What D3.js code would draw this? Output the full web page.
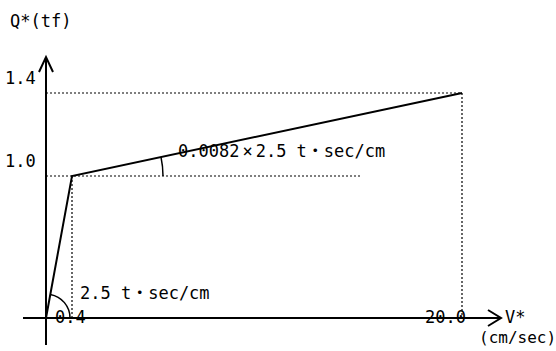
<!DOCTYPE html>
<html>
<head>
<meta charset="utf-8">
<script src="https://cdn.jsdelivr.net/npm/d3@7"></script>
<style>
  body { margin: 0; background: #fff; }
  svg text { font-family: "DejaVu Sans Mono", "Liberation Mono", "Noto Sans CJK JP", monospace; font-size: 17px; fill: #000; }
</style>
</head>
<body>
<svg width="556" height="351"></svg>
<script>
// bilinear force-velocity diagram (schematic, not to scale)
var xBreaks = [0, 0.4, 20.0];
var yBreaks = [0, 1.0, 1.4];
var curveV = [0, 0.4, 20.0];
var curveQ = [0, 1.0, 1.4];
var xTickLabels = ["0.4", "20.0"];
var yTickLabels = ["1.0", "1.4"];

var svg = d3.select("svg");

// piecewise scales: the picture squeezes the small values
var x = d3.scaleLinear().domain(xBreaks).range([46, 72, 462]);
var y = d3.scaleLinear().domain(yBreaks).range([318, 176, 93]);

var pts = curveV.map(function(v, i) { return [v, curveQ[i]]; });

// dotted guides
var dots = svg.append("g").attr("stroke", "#000").attr("stroke-width", 1.2)
    .attr("stroke-dasharray", "2,2").attr("fill", "none");
dots.append("line").attr("x1", x(0)).attr("x2", x(20.0)).attr("y1", y(1.4)).attr("y2", y(1.4));
dots.append("line").attr("x1", x(20.0)).attr("x2", x(20.0)).attr("y1", y(1.4)).attr("y2", y(0));
dots.append("line").attr("x1", x(0)).attr("x2", 362).attr("y1", y(1.0)).attr("y2", y(1.0));
dots.append("line").attr("x1", x(0.4)).attr("x2", x(0.4)).attr("y1", y(1.0)).attr("y2", y(0));

// axes
var ax = svg.append("g").attr("stroke", "#000").attr("stroke-width", 2).attr("fill", "none");
ax.append("line").attr("x1", 23).attr("x2", 500).attr("y1", y(0)).attr("y2", y(0));
ax.append("line").attr("x1", x(0)).attr("x2", x(0)).attr("y1", 345).attr("y2", 57);
ax.append("path").attr("d", "M" + (x(0) - 7) + ",72L" + x(0) + ",57L" + (x(0) + 7) + ",72");
ax.append("path").attr("d", "M488," + (y(0) - 8) + "L501," + y(0) + "L488," + (y(0) + 8));

// the curve
svg.append("path")
    .datum(pts)
    .attr("fill", "none").attr("stroke", "#000").attr("stroke-width", 2)
    .attr("d", d3.line().x(function(d) { return x(d[0]); }).y(function(d) { return y(d[1]); }));

// angle arcs
var a1 = Math.atan2(x(0.4) - x(0), y(0) - y(1.0));
svg.append("path")
    .attr("transform", "translate(" + x(0) + "," + y(0) + ")")
    .attr("fill", "none").attr("stroke", "#000").attr("stroke-width", 1.5)
    .attr("d", d3.arc()({innerRadius: 24, outerRadius: 24, startAngle: a1, endAngle: Math.PI / 2}));
var a2 = Math.atan2(x(20.0) - x(0.4), y(1.0) - y(1.4));
svg.append("path")
    .attr("transform", "translate(" + x(0.4) + "," + y(1.0) + ")")
    .attr("fill", "none").attr("stroke", "#000").attr("stroke-width", 1.5)
    .attr("d", d3.arc()({innerRadius: 91, outerRadius: 91, startAngle: a2, endAngle: Math.PI / 2}));

// tick labels
svg.selectAll(".ylab").data(yTickLabels).enter().append("text")
    .attr("x", 5).attr("y", function(d) { return y(+d) - 9; })
    .text(function(d) { return d; });
var xdx = [-17, -37];
svg.selectAll(".xlab").data(xTickLabels).enter().append("text")
    .attr("x", function(d, i) { return x(+d) + xdx[i]; }).attr("y", y(0) + 5)
    .text(function(d) { return d; });

// titles and annotations
svg.append("text").attr("x", 10).attr("y", 27).text("Q*(tf)");
svg.append("text").attr("x", 505).attr("y", 323).text("V*");
svg.append("text").attr("x", 479).attr("y", 343).style("font-size", "16px").text("(cm/sec)");

var slope2 = svg.append("text").attr("x", 178).attr("y", 157);
slope2.append("tspan").text("0.0082");
slope2.append("tspan").attr("dx", 3).text("×");
slope2.append("tspan").attr("dx", 3).text("2.5 t・sec/cm");

svg.append("text").attr("x", 80).attr("y", 299).text("2.5 t・sec/cm");
</script>
</body>
</html>
